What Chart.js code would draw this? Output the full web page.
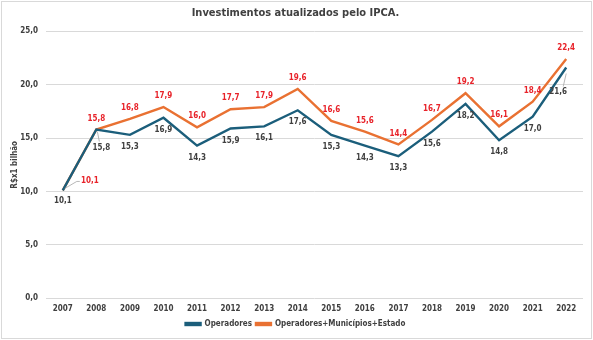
<!DOCTYPE html>
<html>
<head>
<meta charset="utf-8">
<script src="https://cdn.jsdelivr.net/npm/chart.js@4"></script>
<style>
  html, body { margin: 0; padding: 0; background: #fff; }
  #wrap { position: absolute; left: 1px; top: 1px; width: 589px; height: 336px; border: 1px solid #d9d9d9; }
</style>
</head>
<body>
<div id="wrap"><canvas id="linechart"></canvas></div>
<script>
'use strict';
const anos = ['2007', '2008', '2009', '2010', '2011', '2012', '2013', '2014', '2015', '2016', '2017', '2018', '2019', '2020', '2021', '2022'];
const operadores = [10.1, 15.8, 15.3, 16.9, 14.3, 15.9, 16.1, 17.6, 15.3, 14.3, 13.3, 15.6, 18.2, 14.8, 17.0, 21.6];
const total = [10.1, 15.8, 16.8, 17.9, 16.0, 17.7, 17.9, 19.6, 16.6, 15.6, 14.4, 16.7, 19.2, 16.1, 18.4, 22.4];

const FONT = '"Liberation Sans Narrow", "DejaVu Sans Condensed", Roboto, sans-serif';
const fmt = v => v.toFixed(1).replace('.', ',');

// rotulos: laranja em cima, azul embaixo (alguns deslocados com linha guia)
const rotulos = {
    id: 'rotulos',
    afterDatasetsDraw(chart) {
        const ctx = chart.ctx;
        ctx.save();
        ctx.font = 'bold 8px ' + FONT;
        ctx.textAlign = 'center';
        ctx.textBaseline = 'middle';
        ctx.strokeStyle = '#a6a6a6';
        ctx.lineWidth = 0.8;
        chart.data.datasets.forEach((ds, di) => {
            const meta = chart.getDatasetMeta(di);
            meta.data.forEach((pt, i) => {
                let dx = 0, dy = di === 0 ? 12 : -11;
                if (di === 0 && i === 0) { dy = 10; }
                if (di === 1 && i === 0) {
                    dx = 27; dy = -10;
                    ctx.beginPath(); ctx.moveTo(pt.x + 2, pt.y - 2); ctx.lineTo(pt.x + 14, pt.y - 9); ctx.lineTo(pt.x + 17, pt.y - 9); ctx.stroke();
                }
                if (di === 0 && i === 1) {
                    dx = 5; dy = 18;
                    ctx.beginPath(); ctx.moveTo(pt.x + 1, pt.y + 2); ctx.lineTo(pt.x + 3, pt.y + 12); ctx.stroke();
                }
                if (di === 0 && i === 15) {
                    dx = -8; dy = 24;
                    ctx.beginPath(); ctx.moveTo(pt.x - 3, pt.y + 19); ctx.lineTo(pt.x, pt.y + 6); ctx.stroke();
                }
                ctx.fillStyle = di === 0 ? '#404040' : '#e8232a';
                ctx.fillText(fmt(ds.data[i]), pt.x + dx, pt.y + dy);
            });
        });
        ctx.restore();
    }
};

new Chart(document.querySelector('#linechart'), {
    type: 'line',
    data: {
        labels: anos,
        datasets: [{
            label: 'Operadores',
            data: operadores,
            borderColor: '#1b5e7b',
            backgroundColor: '#1b5e7b',
            borderWidth: 2.4,
            pointRadius: 0,
            tension: 0
        },
        {
            label: 'Operadores+Municípios+Estado',
            data: total,
            borderColor: '#e97132',
            backgroundColor: '#e97132',
            borderWidth: 2.4,
            pointRadius: 0,
            tension: 0
        }]
    },
    options: {
        responsive: true,
        maintainAspectRatio: false,
        animation: false,
        layout: { padding: { left: 6, right: 8, top: 0, bottom: 0 } },
        plugins: {
            title: {
                display: true,
                text: 'Investimentos atualizados pelo IPCA.',
                color: '#404040',
                font: { family: FONT, size: 11, weight: 'bold' },
                padding: { top: 5, bottom: 11 }
            },
            legend: {
                position: 'bottom',
                labels: {
                    color: '#404040',
                    font: { family: FONT, size: 8, weight: 'bold' },
                    boxWidth: 15,
                    boxHeight: 2,
                    padding: 4
                }
            },
            tooltip: { enabled: false }
        },
        scales: {
            y: {
                min: 0,
                max: 25,
                afterFit: s => { s.width = 38; },
                ticks: {
                    stepSize: 5,
                    color: '#404040',
                    font: { family: FONT, size: 8, weight: 'bold' },
                    callback: v => fmt(v),
                    padding: 8
                },
                grid: { color: '#d9d9d9', drawTicks: false },
                border: { display: false },
                title: {
                    display: true,
                    text: 'R$x1 bilhão',
                    color: '#404040',
                    font: { family: FONT, size: 8, weight: 'bold' },
                    padding: 2
                }
            },
            x: {
                offset: true,
                afterFit: s => { s.height = s.height - 4; },
                ticks: {
                    color: '#404040',
                    font: { family: FONT, size: 8, weight: 'bold' },
                    padding: 6,
                    maxRotation: 0
                },
                grid: { display: false, drawTicks: false },
                border: { display: false }
            }
        }
    },
    plugins: [rotulos]
});
</script>
</body>
</html>
